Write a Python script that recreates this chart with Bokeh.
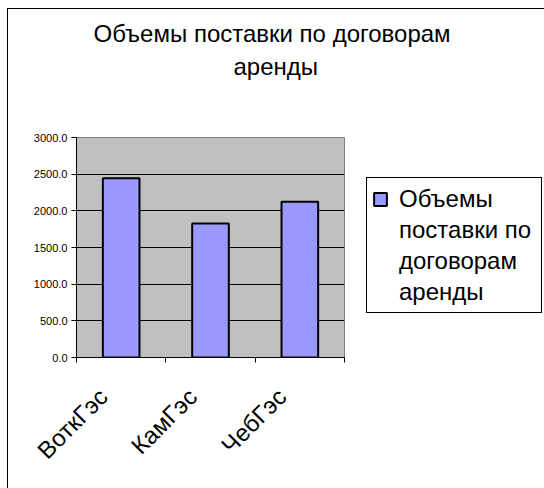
import math
from bokeh.plotting import figure
from bokeh.models import (Range1d, FixedTicker, NumeralTickFormatter, Title,
                          Legend, LegendItem, ColumnDataSource)
from bokeh.embed import file_html
from bokeh.resources import INLINE

categories = ["ВоткГэс", "КамГэс", "ЧебГэс"]
values = [2445.0, 1826.0, 2123.0]
y_ticks = [0, 500, 1000, 1500, 2000, 2500, 3000]
title_lines = ["Объемы поставки по договорам", "аренды"]
legend_lines = ["Объемы", "поставки по", "договорам", "аренды"]

FONT = "Liberation Sans"

xs = [i + 0.5 for i in range(len(categories))]
src = ColumnDataSource(dict(x=xs, top=values))

p = figure(frame_width=268, frame_height=220, output_backend="svg", toolbar_location=None,
           title=None,
           x_range=Range1d(0, len(categories)), y_range=Range1d(0, 3000),
           min_border_left=68, min_border_right=200,
           min_border_top=128, min_border_bottom=131,
           styles={"border-left": "1px solid black", "border-top": "1px solid black",
                   "margin-left": "7px", "margin-top": "8px"})
p.background_fill_color = "#C0C0C0"
p.border_fill_color = "white"
p.outline_line_color = "#808080"

bars = p.vbar(x="x", top="top", width=0.41, bottom=0, source=src,
              fill_color="#9999FF", line_color="black", line_width=2)
# invisible renderer used only for the continuation lines of the legend label
blank = p.vbar(x=[], top=[], width=0.1, fill_color=None, line_color=None)

# y axis
p.yaxis.ticker = FixedTicker(ticks=y_ticks)
p.yaxis.formatter = NumeralTickFormatter(format="0.0")
p.yaxis.major_label_text_font = FONT
p.yaxis.major_label_text_font_size = "11px"
p.yaxis.major_label_text_color = "black"
p.yaxis.axis_line_color = "black"
p.yaxis.major_tick_line_color = "black"
p.yaxis.major_tick_in = 0
p.yaxis.major_tick_out = 5
p.yaxis.minor_tick_line_color = None
p.yaxis.major_label_standoff = 4

# x axis: label anchors slightly left of the bar centres, tick marks at category edges
label_pos = [x - 0.2 for x in xs]
p.xaxis.ticker = FixedTicker(ticks=label_pos, minor_ticks=list(range(len(categories) + 1)))
p.xaxis.major_label_overrides = {x: c for x, c in zip(label_pos, categories)}
p.xaxis.major_tick_line_color = None
p.xaxis.minor_tick_line_color = "black"
p.xaxis.minor_tick_in = 0
p.xaxis.minor_tick_out = 5
p.xaxis.axis_line_color = "black"
p.xaxis.major_label_orientation = math.pi / 4
p.xaxis.major_label_text_font = FONT
p.xaxis.major_label_text_font_size = "24px"
p.xaxis.major_label_text_color = "black"
p.xaxis.major_label_standoff = 29

p.xgrid.grid_line_color = None
p.ygrid.ticker = FixedTicker(ticks=y_ticks[1:-1])
p.ygrid.grid_line_color = "black"
p.ygrid.grid_line_width = 1

# title lines: spacer nearest the frame, then second line, then first line
spacer = Title(text=" ", standoff=27, text_font=FONT, text_font_size="24px")
t2 = Title(text=title_lines[1], align="left", offset=157, standoff=4,
           text_font=FONT, text_font_size="24px", text_font_style="normal",
           text_color="black")
t1 = Title(text=title_lines[0], align="left", offset=17, standoff=4,
           text_font=FONT, text_font_size="24px", text_font_style="normal",
           text_color="black")
p.add_layout(spacer, "above")
p.add_layout(t2, "above")
p.add_layout(t1, "above")

items = [LegendItem(label=legend_lines[0], renderers=[bars])]
items += [LegendItem(label=t, renderers=[blank]) for t in legend_lines[1:]]
legend = Legend(items=items,
                location=(22, 44), border_line_color="black", border_line_width=1,
                border_line_alpha=1.0,
                background_fill_color="white", background_fill_alpha=1.0,
                label_text_font=FONT, label_text_color="black",
                label_text_font_size="24px", label_text_line_height=1.0,
                glyph_width=16, glyph_height=16,
                label_height=31, label_width=137,
                padding=5, margin=0, spacing=0, label_standoff=11)
p.add_layout(legend, "right")

open("out.html", "w").write(file_html(p, INLINE))
